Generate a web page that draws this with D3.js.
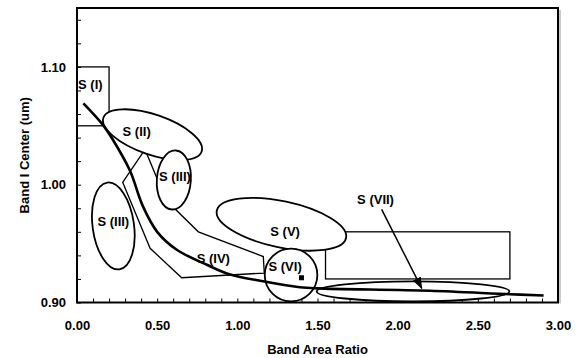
<!DOCTYPE html>
<html>
<head>
<meta charset="utf-8">
<script src="https://cdn.jsdelivr.net/npm/d3@7/dist/d3.min.js"></script>
<style>
  body { margin: 0; background: #fff; }
  svg { display: block; font-family: "Liberation Sans", Arial, sans-serif; font-weight: bold; }
</style>
</head>
<body>
<svg id="chart" width="579" height="358"></svg>
<script>
// ---------------------------------
// Data (band area ratio vs center)
// ---------------------------------
const curveX = [0.04, 0.16, 0.22, 0.33, 0.41, 0.50, 0.62, 0.81, 0.95, 1.16, 1.39, 1.50, 2.20, 2.70, 2.91];
const curveY = [1.069, 1.051, 1.039, 1.012, 0.982, 0.960, 0.945, 0.932, 0.924, 0.918, 0.913, 0.912, 0.910, 0.907, 0.906];

// S (IV) region outline
const bandX = [0.415, 0.285, 0.456, 0.653, 1.168, 1.162, 0.757, 0.555, 0.430];
const bandY = [1.028, 1.002, 0.946, 0.921, 0.925, 0.939, 0.960, 0.987, 1.028];

// rectangular regions: S (I) and the box under S (V)
const boxX0 = [0.00, 1.55];
const boxX1 = [0.20, 2.70];
const boxY0 = [1.05, 0.92];
const boxY1 = [1.10, 0.96];

// elliptical regions: S (II), S (III), S (III), S (V), S (VI), S (VII)
const ellCX  = [0.471, 0.604, 0.2265, 1.275, 1.335, 2.096];
const ellCY  = [1.0425, 1.004, 0.965, 0.9664, 0.9233, 0.9094];
const ellRX  = [0.324, 0.106, 0.129, 0.412, 0.164, 0.601];
const ellRY  = [0.017, 0.0251, 0.0372, 0.0196, 0.0224, 0.0085];
const ellRot = [19, 4, -8, 12, 0, 0];

// region labels
const labelText = ['S (I)', 'S (II)', 'S (III)', 'S (III)', 'S (IV)', 'S (V)', 'S (VI)', 'S (VII)'];
const labelX = [0.083, 0.372, 0.611, 0.2265, 0.850, 1.298, 1.298, 1.862];
const labelY = [1.0853, 1.0455, 1.0072, 0.969, 0.9378, 0.9604, 0.9306, 0.9874];

// single marker and the S (VII) arrow
const markX = [1.40];
const markY = [0.921];
const arrowX = [1.90, 2.15];
const arrowY = [0.979, 0.912];

// axes
const xMajor = [0, 0.5, 1, 1.5, 2, 2.5, 3];
const yMajor = [0.9, 1.0, 1.1];
const xLabel = 'Band Area Ratio';
const yLabel = 'Band I Center (um)';

// ---------------------------------
// Layout
// ---------------------------------
const margin = { top: 8, right: 21, bottom: 55.5, left: 77 };
const width = 579 - margin.left - margin.right;
const height = 358 - margin.top - margin.bottom;

const svg = d3.select('#chart');
const g = svg.append('g').attr('transform', 'translate(' + margin.left + ',' + margin.top + ')');

const x = d3.scaleLinear().domain([0, 3]).range([0, width]);
const y = d3.scaleLinear().domain([0.9, 1.15]).range([height, 0]);

const fmt = d3.format('.2f');
const isMajor = (list, v) => list.some(m => Math.abs(m - v) < 1e-6);

// x axis: minor ticks every 0.1, labels on majors
const xAxis = d3.axisBottom(x)
  .tickValues(d3.range(0, 3.0001, 0.1))
  .tickSizeInner(-4).tickSizeOuter(0).tickPadding(18)
  .tickFormat(d => isMajor(xMajor, d) ? fmt(d) : '');
const gx = g.append('g').attr('transform', 'translate(0,' + height + ')').call(xAxis);

const yAxis = d3.axisLeft(y)
  .tickValues(d3.range(0.9, 1.1501, 0.02))
  .tickSizeInner(-4).tickSizeOuter(0).tickPadding(11)
  .tickFormat(d => isMajor(yMajor, d) ? fmt(d) : '');
const gy = g.append('g').call(yAxis);

[gx, gy].forEach(a => {
  a.select('.domain').remove();
  a.selectAll('.tick line').attr('stroke', '#000').attr('stroke-width', 1);
  a.selectAll('.tick text').attr('fill', '#000').style('font-size', '13px').style('font-weight', 'bold')
    .style('font-family', '"Liberation Sans", Arial, sans-serif');
});

// ---------------------------------
// Regions
// ---------------------------------
const stroke = '#000';

// S (IV) band
const band = bandX.map((v, i) => [x(v), y(bandY[i])]);
g.append('path')
  .attr('d', d3.line()(band) + 'Z')
  .attr('fill', 'none').attr('stroke', stroke).attr('stroke-width', 1.3);

// boxes
g.selectAll('.box')
  .data(boxX0.map((v, i) => i))
  .enter().append('rect')
  .attr('class', 'box')
  .attr('x', i => x(boxX0[i]))
  .attr('y', i => y(boxY1[i]))
  .attr('width', i => x(boxX1[i]) - x(boxX0[i]))
  .attr('height', i => y(boxY0[i]) - y(boxY1[i]))
  .attr('fill', 'none').attr('stroke', stroke).attr('stroke-width', 1.3);

// ellipses (white filled, they hide what is behind)
g.selectAll('.ell')
  .data(ellCX.map((v, i) => i))
  .enter().append('ellipse')
  .attr('class', 'ell')
  .attr('transform', i => 'translate(' + x(ellCX[i]) + ',' + y(ellCY[i]) + ') rotate(' + ellRot[i] + ')')
  .attr('rx', i => x(ellCX[i] + ellRX[i]) - x(ellCX[i]))
  .attr('ry', i => y(ellCY[i]) - y(ellCY[i] + ellRY[i]))
  .attr('fill', '#fff').attr('stroke', stroke).attr('stroke-width', 1.8);

// trend curve
const pts = curveX.map((v, i) => [x(v), y(curveY[i])]);
g.append('path')
  .attr('d', d3.line().curve(d3.curveCatmullRom.alpha(0.5))(pts))
  .attr('fill', 'none').attr('stroke', '#000').attr('stroke-width', 2.6);

// marker
g.selectAll('.mark')
  .data(markX.map((v, i) => i))
  .enter().append('rect')
  .attr('x', i => x(markX[i]) - 2.5)
  .attr('y', i => y(markY[i]) - 2.5)
  .attr('width', 5).attr('height', 5)
  .attr('fill', '#000');

// arrow
svg.append('defs').append('marker')
  .attr('id', 'head')
  .attr('markerUnits', 'userSpaceOnUse')
  .attr('markerWidth', 12).attr('markerHeight', 9)
  .attr('refX', 11).attr('refY', 4.5)
  .attr('orient', 'auto')
  .append('path').attr('d', 'M0,0 L12,4.5 L0,9 Z').attr('fill', '#000');

g.append('line')
  .attr('x1', x(arrowX[0])).attr('y1', y(arrowY[0]))
  .attr('x2', x(arrowX[1])).attr('y2', y(arrowY[1]))
  .attr('stroke', '#000').attr('stroke-width', 1.5)
  .attr('marker-end', 'url(#head)');

// labels
g.selectAll('.lbl')
  .data(labelText)
  .enter().append('text')
  .attr('x', (d, i) => x(labelX[i]))
  .attr('y', (d, i) => y(labelY[i]))
  .attr('dy', '0.36em')
  .attr('text-anchor', 'middle')
  .style('font-size', '13px')
  .text(d => d);

// plot frame
g.append('rect')
  .attr('x', 0).attr('y', 0).attr('width', width).attr('height', height)
  .attr('fill', 'none').attr('stroke', '#000').attr('stroke-width', 2);
g.append('path')
  .attr('d', 'M' + (width + 2) + ',2V' + (height + 1))
  .attr('stroke', '#999').attr('stroke-width', 1).attr('fill', 'none');

// axis titles
svg.append('text')
  .attr('x', margin.left + width / 2).attr('y', 354)
  .attr('text-anchor', 'middle').style('font-size', '13px')
  .text(xLabel);
svg.append('text')
  .attr('transform', 'translate(28.5,' + (margin.top + height / 2) + ') rotate(-90)')
  .attr('text-anchor', 'middle').style('font-size', '13px')
  .text(yLabel);
</script>
</body>
</html>
